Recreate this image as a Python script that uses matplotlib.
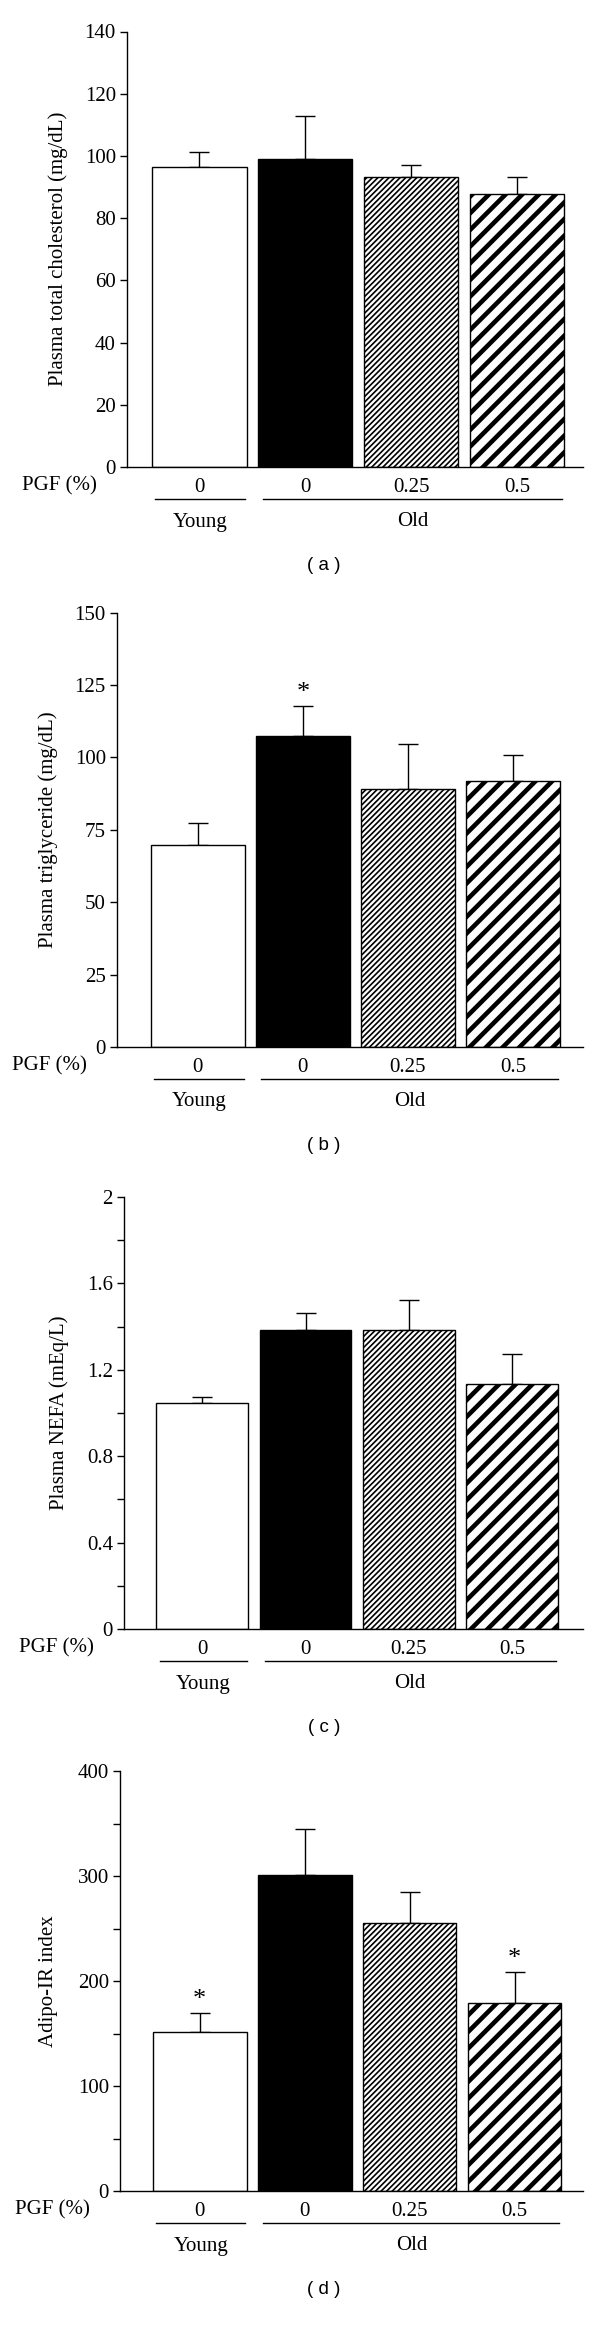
import numpy as np
import matplotlib
matplotlib.use('Agg')
import matplotlib.pyplot as plt

plt.rcParams['font.family'] = ['Liberation Serif', 'DejaVu Serif']

groups = ['Young', 'Old']
pgf_levels = ['0', '0', '0.25', '0.5']

chol_mean = [96.5, 99.1, 93.3, 87.7]
chol_err = [4.8, 13.7, 3.7, 5.6]

tg_mean = [69.7, 107.4, 89.2, 91.7]
tg_err = [7.6, 10.5, 15.5, 9.1]

nefa_mean = [1.044, 1.386, 1.384, 1.135]
nefa_err = [0.031, 0.078, 0.141, 0.139]

adipo_mean = [151.0, 301.4, 255.5, 178.9]
adipo_err = [18.4, 43.2, 29.7, 29.3]

W, H = 600, 2334
fig = plt.figure(figsize=(W / 100, H / 100), dpi=100)

# panel: (mean, err, ylabel, ymax, major step, minor step, star idx, letter,
#         axes px box (left, right, top, bottom), xlim, label x)
panels = [
    (chol_mean, chol_err, 'Plasma total cholesterol (mg/dL)', 140, 20, None, [], 'a',
     (127, 583, 31.5, 467), (-0.684, 3.623), -0.129),
    (tg_mean, tg_err, 'Plasma triglyceride (mg/dL)', 150, 25, None, [1], 'b',
     (117, 583, 612.7, 1047), (-0.77, 3.667), -0.127),
    (nefa_mean, nefa_err, 'Plasma NEFA (mEq/L)', 2, 0.4, 0.2, [], 'c',
     (124, 583, 1197, 1629), (-0.76, 3.69), -0.12),
    (adipo_mean, adipo_err, 'Adipo-IR index', 400, 100, 50, [0, 3], 'd',
     (120, 583, 1771, 2191), (-0.76, 3.65), -0.134),
]

faces = ['white', 'black', 'white', 'white']
hatches = [None, None, '//////', '//']
hatch_lw = [1.0, 1.0, 1.2, 3.3]
width = 0.89
x = np.arange(4)
fs = 15

for mean, err, ylab, ymax, step, minor, stars, letter, box, xlim, labx in panels:
    l, r, t, b = box
    ax = fig.add_axes([l / W, 1 - b / H, (r - l) / W, (b - t) / H])
    for i in range(4):
        plt.rcParams['hatch.linewidth'] = hatch_lw[i]
        bar = ax.bar(x[i], mean[i], width, color=faces[i], edgecolor='black',
                     linewidth=1.0, hatch=hatches[i], zorder=2)
        if hasattr(bar[0], 'set_hatch_linewidth'):
            bar[0].set_hatch_linewidth(hatch_lw[i])
    ax.errorbar(x, mean, yerr=[np.zeros(4), err], fmt='none', ecolor='black',
                elinewidth=1.0, capsize=7, capthick=1.0, zorder=1)
    for s in stars:
        ax.annotate('*', xy=(x[s], mean[s] + err[s]), xytext=(0, 2),
                    textcoords='offset pixels', ha='center', va='bottom', fontsize=19)

    ax.set_xlim(*xlim)
    ax.set_ylim(0, ymax)
    ticks = np.arange(0, ymax + step / 2, step)
    ax.set_yticks(ticks)
    ax.set_yticklabels(['%g' % v for v in ticks])
    if minor:
        ax.set_yticks(np.arange(0, ymax + minor / 2, minor), minor=True)
    ax.spines['top'].set_visible(False)
    ax.spines['right'].set_visible(False)
    ax.spines['left'].set_linewidth(1.0)
    ax.spines['bottom'].set_linewidth(1.0)
    ax.tick_params(axis='y', which='both', length=5, width=1.0, labelsize=fs, pad=3)
    ax.tick_params(axis='x', length=0, labelsize=fs, pad=8)
    ax.set_xticks(x)
    ax.set_xticklabels(pgf_levels)
    ax.set_ylabel(ylab, fontsize=fs)
    ax.yaxis.set_label_coords(labx, 0.5)

    ax.annotate('PGF (%)', xy=(0, 0), xycoords='axes fraction', xytext=(-30, -19),
                textcoords='offset pixels', ha='right', va='center', fontsize=fs)

    tr = ax.get_xaxis_transform()
    yline = -32 / (b - t)
    # group lines and names
    spans = [(x[0] - width / 2 + 0.03, x[0] + width / 2 - 0.01),
             (x[1] - width / 2 + 0.05, x[3] + width / 2 - 0.02)]
    for g, (x0, x1) in zip(groups, spans):
        ax.plot([x0, x1], [yline, yline], color='black', lw=1.0,
                transform=tr, clip_on=False)
        ax.annotate(g, xy=((x0 + x1) / 2, 0), xycoords=tr, xytext=(0, -55),
                    textcoords='offset pixels', ha='center', va='center', fontsize=fs)
    ax.annotate('( %s )' % letter, xy=(0, 0), xycoords='axes fraction',
                xytext=(324 - l, -99), textcoords='offset pixels', ha='center',
                va='center', fontsize=13.5, family=['Liberation Sans', 'DejaVu Sans'])

fig.savefig('out.png', dpi=100)
